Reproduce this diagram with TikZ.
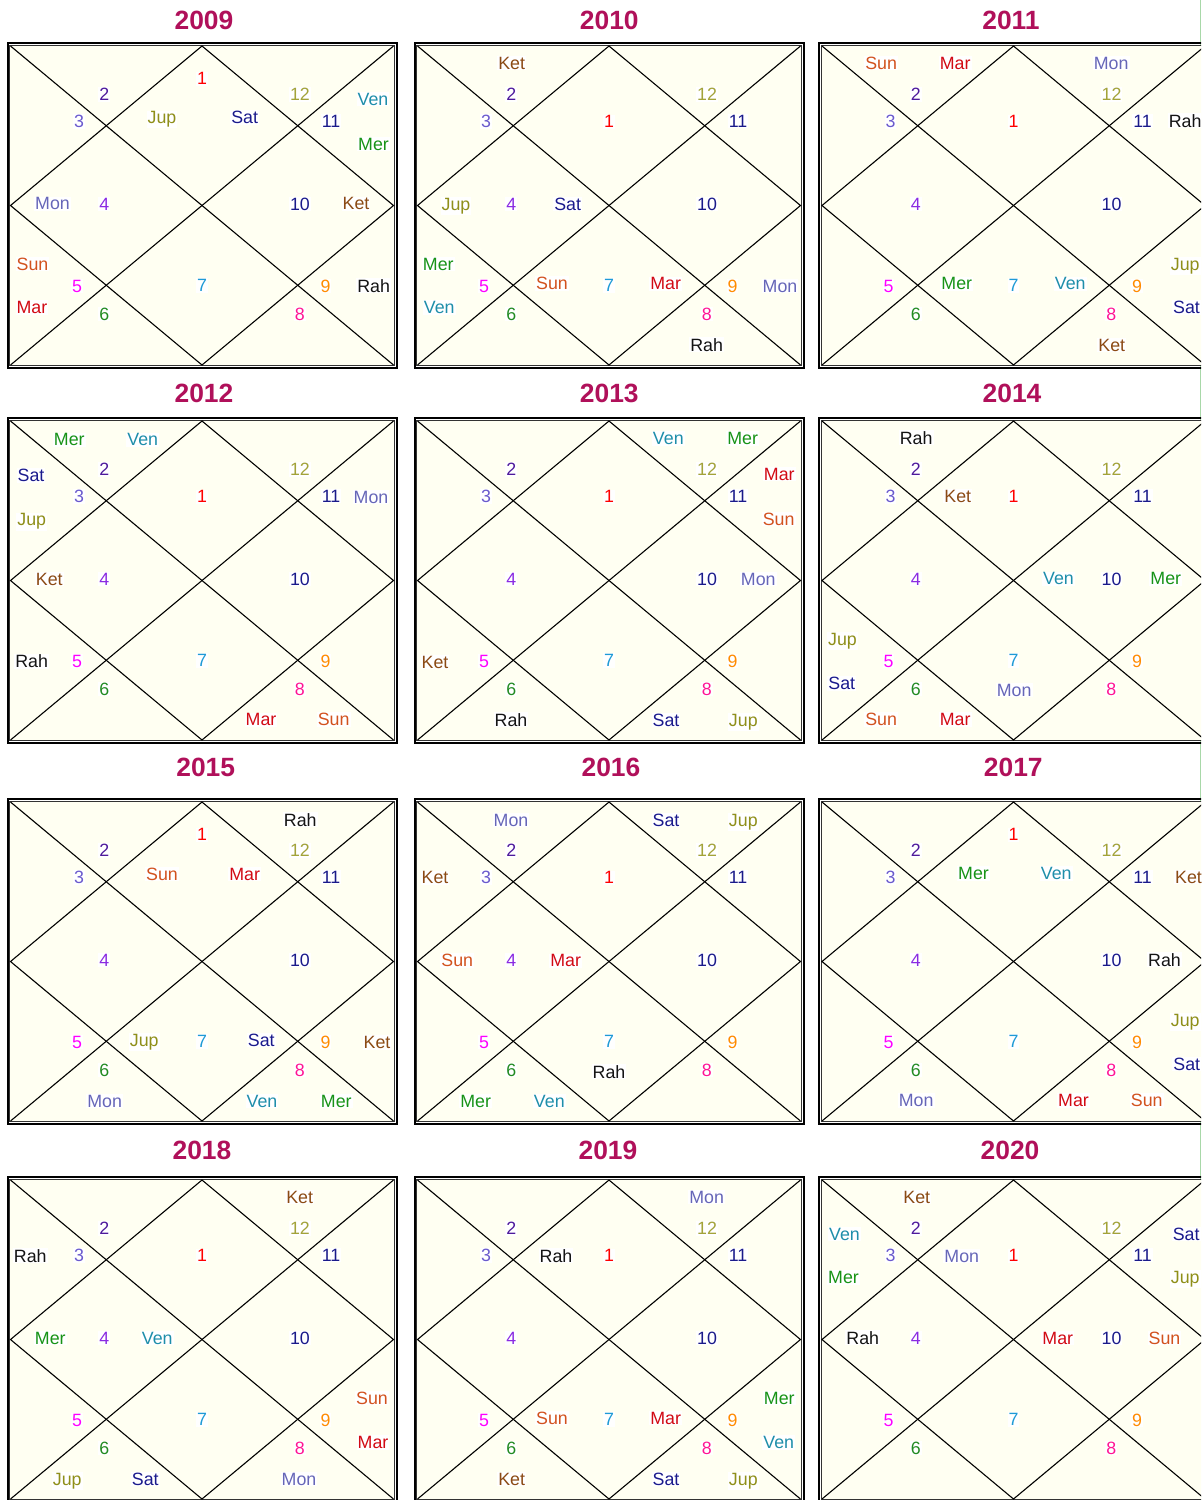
\documentclass[tikz,border=0pt]{standalone}
\usepackage{fontspec}
\setmainfont{Liberation Sans}
\definecolor{titlec}{HTML}{B0105A}
\definecolor{cream}{HTML}{FFFFF2}
\definecolor{gline}{HTML}{A8D8A8}
\definecolor{h1}{HTML}{FF0000}
\definecolor{h2}{HTML}{4E1A9C}
\definecolor{h3}{HTML}{6A5ACD}
\definecolor{h4}{HTML}{8A2BE2}
\definecolor{h5}{HTML}{FF00FF}
\definecolor{h6}{HTML}{228B22}
\definecolor{h7}{HTML}{1E9AD6}
\definecolor{h8}{HTML}{FF1493}
\definecolor{h9}{HTML}{FF8C00}
\definecolor{h10}{HTML}{1A1A8A}
\definecolor{h11}{HTML}{1A1A8A}
\definecolor{h12}{HTML}{A3A33A}
\definecolor{cSun}{HTML}{D2521E}
\definecolor{cMar}{HTML}{D20A14}
\definecolor{cMon}{HTML}{6666B8}
\definecolor{cMer}{HTML}{179317}
\definecolor{cVen}{HTML}{1E8EAA}
\definecolor{cJup}{HTML}{8F8F1A}
\definecolor{cSat}{HTML}{1A1A8C}
\definecolor{cRah}{HTML}{141414}
\definecolor{cKet}{HTML}{8B4A14}
\tikzset{
  lbl/.style={font=\fontsize{8.9}{10}\selectfont, anchor=base, yshift=-2.9pt, fill=white, inner sep=0.5pt},
  yeartitle/.style={font=\fontsize{13.2}{15}\selectfont\bfseries, text=titlec, anchor=base, yshift=-4.5pt, inner sep=0pt},
  thickframe/.style={draw=black, line width=1pt},
  thinframe/.style={draw=black!80, line width=0.45pt, fill=cream},
  chartline/.style={draw=black, line width=0.55pt},
  greenline/.style={draw=gline, line width=0.6pt}
}
\newcommand{\hnum}[4]{\node[lbl, text=h#2] (#1-h#2) at (#3,#4) {#2};}
\newcommand{\pl}[4]{\node[lbl, text=c#2] (#1-#2) at (#3,#4) {#2};}
\newcommand{\kchart}[4]{%
\begin{scope}[shift={(#2,#3)}]
\draw[thickframe] (-194.5,-162.5) rectangle (194.5,162.5);
\draw[thinframe] (-192.3,-160.3) rectangle (192.3,160.3);
\draw[chartline] (-191.5,-159.5) -- (191.5,159.5);
\draw[chartline] (-191.5,159.5) -- (191.5,-159.5);
\draw[chartline] (0,-159.5) -- (191.5,0) -- (0,159.5) -- (-191.5,0) -- cycle;
\hnum{#1}{2}{-97.7}{-110.5}
\hnum{#1}{3}{-123}{-83.8}
\hnum{#1}{4}{-97.7}{-1.3}
\hnum{#1}{5}{-125}{80.7}
\hnum{#1}{6}{-97.7}{108.7}
\hnum{#1}{7}{0}{80.3}
\hnum{#1}{8}{97.8}{108.7}
\hnum{#1}{9}{123.5}{80.7}
\hnum{#1}{10}{98}{-1.3}
\hnum{#1}{11}{129}{-84}
\hnum{#1}{12}{98}{-110.5}
#4
\end{scope}}
\begin{document}
\begin{tikzpicture}[x=0.5pt,y=-0.5pt]
\useasboundingbox (0,0) rectangle (1201,1500);
\clip (0,0) rectangle (1201,1500);
\fill[white] (0,0) rectangle (1201,1500);
\draw[greenline] (1200.5,0) -- (1200.5,1500);

% titles
\node[yeartitle] (t09) at (204,20.7) {2009};
\node[yeartitle] (t10) at (609.3,20.7) {2010};
\node[yeartitle] (t11) at (1011,20.7) {2011};
\node[yeartitle] (t12) at (204,393.3) {2012};
\node[yeartitle] (t13) at (609.3,393.3) {2013};
\node[yeartitle] (t14) at (1012,393.3) {2014};
\node[yeartitle] (t15) at (205.7,767) {2015};
\node[yeartitle] (t16) at (611,767) {2016};
\node[yeartitle] (t17) at (1013.3,767) {2017};
\node[yeartitle] (t18) at (202,1150) {2018};
\node[yeartitle] (t19) at (608,1150) {2019};
\node[yeartitle] (t20) at (1010,1150) {2020};

% 2009
\kchart{c09}{202}{205.5}{%
\hnum{c09}{1}{0}{-126.5}
\pl{c09}{Jup}{-40}{-87.5}
\pl{c09}{Sat}{42.7}{-87.5}
\pl{c09}{Ven}{171}{-106}
\pl{c09}{Mer}{171.5}{-61}
\pl{c09}{Mon}{-149.5}{-1.5}
\pl{c09}{Ket}{154}{-1.5}
\pl{c09}{Sun}{-169.5}{59}
\pl{c09}{Mar}{-170}{102.3}
\pl{c09}{Rah}{171.7}{80.7}
}
% 2010
\kchart{c10}{609}{205.5}{%
\hnum{c10}{1}{0}{-83.5}
\pl{c10}{Ket}{-97.3}{-142}
\pl{c10}{Jup}{-153}{-1}
\pl{c10}{Sat}{-41.3}{-1}
\pl{c10}{Mer}{-170.7}{59}
\pl{c10}{Ven}{-169.7}{102.3}
\pl{c10}{Sun}{-57}{78.5}
\pl{c10}{Mar}{56.7}{78.5}
\pl{c10}{Mon}{171}{80.7}
\pl{c10}{Rah}{97.7}{140}
}
% 2011
\kchart{c11}{1013.5}{205.5}{%
\hnum{c11}{1}{0}{-83.5}
\pl{c11}{Sun}{-132.3}{-142}
\pl{c11}{Mar}{-58.3}{-142}
\pl{c11}{Mon}{97.7}{-142}
\pl{c11}{Rah}{171.7}{-84}
\pl{c11}{Mer}{-56.7}{78.5}
\pl{c11}{Ven}{56.7}{78.5}
\pl{c11}{Jup}{171.7}{59}
\pl{c11}{Sat}{173}{102.3}
\pl{c11}{Ket}{98.3}{140}
}
% 2012
\kchart{c12}{202}{580.5}{%
\hnum{c12}{1}{0}{-83.5}
\pl{c12}{Mer}{-132.7}{-140.5}
\pl{c12}{Ven}{-59.3}{-140.5}
\pl{c12}{Sat}{-171}{-104.5}
\pl{c12}{Jup}{-170.3}{-60.5}
\pl{c12}{Mon}{169}{-83}
\pl{c12}{Ket}{-152.7}{-1}
\pl{c12}{Rah}{-170.3}{81.5}
\pl{c12}{Mar}{59}{139.5}
\pl{c12}{Sun}{131.7}{139.5}
}
% 2013
\kchart{c13}{609}{580.5}{%
\hnum{c13}{1}{0}{-83.5}
\pl{c13}{Ven}{59.3}{-141.7}
\pl{c13}{Mer}{133.7}{-141.7}
\pl{c13}{Mar}{170.3}{-106}
\pl{c13}{Sun}{169.7}{-61}
\pl{c13}{Mon}{149.3}{-1}
\pl{c13}{Ket}{-174}{82}
\pl{c13}{Rah}{-98}{140}
\pl{c13}{Sat}{57}{140}
\pl{c13}{Jup}{134.3}{140}
}
% 2014
\kchart{c14}{1013.5}{580.5}{%
\hnum{c14}{1}{0}{-83.5}
\pl{c14}{Rah}{-97.3}{-142}
\pl{c14}{Ket}{-55.7}{-84}
\pl{c14}{Ven}{45}{-1.5}
\pl{c14}{Mer}{152.3}{-1.5}
\pl{c14}{Jup}{-171}{58.7}
\pl{c14}{Sat}{-171.7}{103.3}
\pl{c14}{Sun}{-132.3}{139.3}
\pl{c14}{Mar}{-58.3}{139.3}
\pl{c14}{Mon}{0.7}{110}
}
% 2015
\kchart{c15}{202}{961.5}{%
\hnum{c15}{1}{0}{-126.5}
\pl{c15}{Rah}{98.3}{-141}
\pl{c15}{Sun}{-40}{-87}
\pl{c15}{Mar}{42.7}{-87}
\pl{c15}{Jup}{-57.7}{79}
\pl{c15}{Sat}{59.3}{79}
\pl{c15}{Ket}{175}{81.3}
\pl{c15}{Mon}{-97.3}{140}
\pl{c15}{Ven}{60}{140}
\pl{c15}{Mer}{134.3}{140}
}
% 2016
\kchart{c16}{609}{961.5}{%
\hnum{c16}{1}{0}{-83.5}
\pl{c16}{Mon}{-98}{-141}
\pl{c16}{Sat}{57}{-141}
\pl{c16}{Jup}{134.3}{-141}
\pl{c16}{Ket}{-174}{-83.5}
\pl{c16}{Sun}{-151.7}{-0.5}
\pl{c16}{Mar}{-43.3}{-0.5}
\pl{c16}{Rah}{0}{110.7}
\pl{c16}{Mer}{-133.3}{140}
\pl{c16}{Ven}{-59.7}{140}
}
% 2017
\kchart{c17}{1013.5}{961.5}{%
\hnum{c17}{1}{0}{-126.5}
\pl{c17}{Mer}{-40}{-87.7}
\pl{c17}{Ven}{42.7}{-87.7}
\pl{c17}{Ket}{175}{-84}
\pl{c17}{Rah}{151}{-1}
\pl{c17}{Jup}{171.7}{59.3}
\pl{c17}{Sat}{173.3}{102.7}
\pl{c17}{Mon}{-97.3}{139.3}
\pl{c17}{Mar}{60}{139.3}
\pl{c17}{Sun}{133.3}{139.3}
}
% 2018
\kchart{c18}{202}{1339.5}{%
\hnum{c18}{1}{0}{-83.5}
\pl{c18}{Ket}{97.7}{-142}
\pl{c18}{Rah}{-171.7}{-83.3}
\pl{c18}{Mer}{-151.7}{-1}
\pl{c18}{Ven}{-44.7}{-1}
\pl{c18}{Sun}{170}{59}
\pl{c18}{Mar}{171}{103.3}
\pl{c18}{Jup}{-134.7}{140}
\pl{c18}{Sat}{-56.7}{140}
\pl{c18}{Mon}{97}{140}
}
% 2019
\kchart{c19}{609}{1339.5}{%
\hnum{c19}{1}{0}{-83.5}
\pl{c19}{Mon}{97.7}{-142}
\pl{c19}{Rah}{-53}{-83.3}
\pl{c19}{Mer}{170.3}{59}
\pl{c19}{Ven}{169.7}{103.3}
\pl{c19}{Sun}{-57}{79}
\pl{c19}{Mar}{56.7}{79}
\pl{c19}{Ket}{-97.3}{140}
\pl{c19}{Sat}{57}{140}
\pl{c19}{Jup}{134.3}{140}
}
% 2020
\kchart{c20}{1013.5}{1339.5}{%
\hnum{c20}{1}{0}{-83.5}
\pl{c20}{Ket}{-96.7}{-142}
\pl{c20}{Ven}{-169}{-105.3}
\pl{c20}{Mer}{-170}{-61.7}
\pl{c20}{Mon}{-51.7}{-83.3}
\pl{c20}{Sat}{172.7}{-105.3}
\pl{c20}{Jup}{171.7}{-61.7}
\pl{c20}{Rah}{-150.7}{-1}
\pl{c20}{Mar}{44.3}{-1}
\pl{c20}{Sun}{151}{-1}
}
\end{tikzpicture}
\end{document}
